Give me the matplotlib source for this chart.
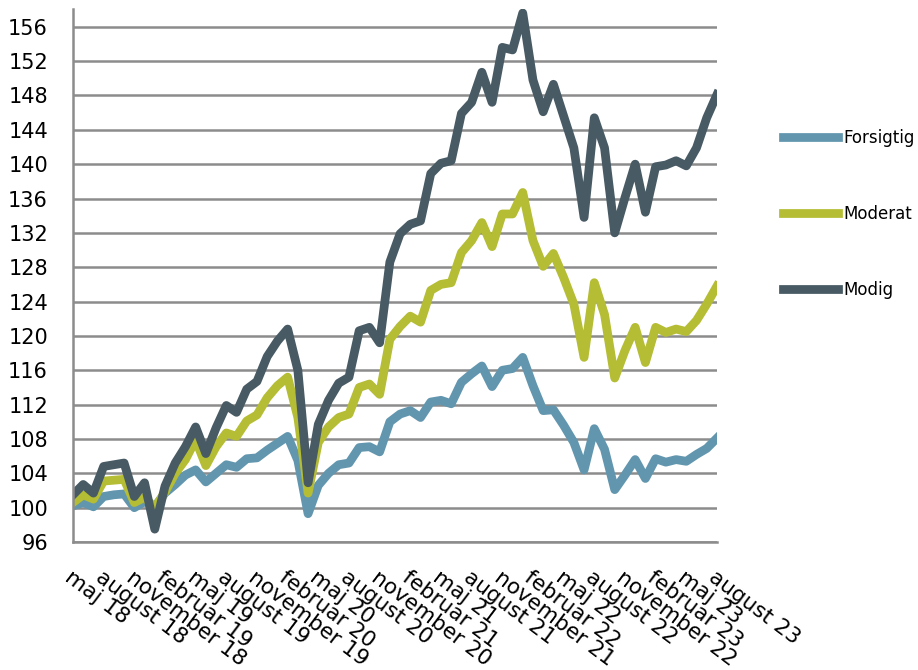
import numpy as np
import matplotlib
matplotlib.use("Agg")
import matplotlib.pyplot as plt

plt.rcParams['font.family'] = ['DejaVu Sans']

# monthly index values, maj 18 .. august 23
forsigtig = [100.2, 100.6, 100.1, 101.3, 101.5, 101.6, 100.0, 100.7, 100.1, 101.7,
             102.7, 103.8, 104.4, 103.0, 104.0, 105.0, 104.7, 105.7, 105.8, 106.7,
             107.5, 108.3, 105.5, 99.3, 102.6, 104.0, 105.0, 105.2, 107.0, 107.1,
             106.5, 110.0, 110.9, 111.3, 110.5, 112.3, 112.5, 112.1, 114.6, 115.6,
             116.5, 114.1, 116.0, 116.2, 117.5, 114.2, 111.3, 111.4, 109.6, 107.6,
             104.4, 109.2, 106.8, 102.1, 103.8, 105.6, 103.4, 105.7, 105.3, 105.6,
             105.4, 106.2, 106.9, 108.1]
moderat = [100.6, 101.5, 101.0, 103.1, 103.2, 103.3, 100.6, 101.2, 100.0, 101.8,
           104.0, 105.6, 107.9, 104.9, 107.1, 108.7, 108.3, 110.1, 110.8, 112.8,
           114.2, 115.2, 110.5, 101.7, 107.6, 109.4, 110.5, 110.9, 114.0, 114.4,
           113.2, 119.6, 121.1, 122.3, 121.6, 125.3, 126.0, 126.2, 129.7, 131.1,
           133.2, 130.4, 134.2, 134.2, 136.7, 131.1, 128.1, 129.6, 126.8, 123.7,
           117.5, 126.2, 122.5, 115.1, 118.3, 121.0, 116.9, 121.0, 120.4, 120.8,
           120.5, 121.8, 123.7, 125.8]
modig = [101.5, 102.7, 101.7, 104.8, 105.0, 105.2, 101.3, 102.9, 97.5, 102.5,
         105.2, 107.1, 109.4, 106.3, 109.3, 111.9, 111.1, 113.8, 114.7, 117.6,
         119.4, 120.8, 116.0, 102.9, 109.7, 112.5, 114.5, 115.2, 120.6, 121.0,
         119.2, 128.6, 131.9, 133.0, 133.4, 138.9, 140.1, 140.4, 145.9, 147.2,
         150.7, 147.2, 153.6, 153.3, 157.6, 149.8, 146.1, 149.3, 145.6, 141.9,
         133.8, 145.4, 141.9, 132.0, 136.1, 140.0, 134.4, 139.7, 139.9, 140.4,
         139.8, 141.9, 145.4, 148.1]

tick_labels = ['maj 18', 'august 18', 'november 18',
               'februar 19', 'maj 19', 'august 19', 'november 19',
               'februar 20', 'maj 20', 'august 20', 'november 20',
               'februar 21', 'maj 21', 'august 21', 'november 21',
               'februar 22', 'maj 22', 'august 22', 'november 22',
               'februar 23', 'maj 23', 'august 23']

x = np.arange(len(modig))

fig = plt.figure(figsize=(9.18, 6.70), dpi=100)
ax = fig.add_axes([0.0795, 0.191, 0.7015, 0.796])

ax.plot(x, forsigtig, color='#6296ae', lw=6.3, label='Forsigtig', solid_joinstyle='round')
ax.plot(x, moderat, color='#b4bd33', lw=6.3, label='Moderat', solid_joinstyle='round')
ax.plot(x, modig, color='#485a64', lw=6.3, label='Modig', solid_joinstyle='round')

ax.set_xlim(0, len(modig) - 1)
ax.set_ylim(96, 158.1)
ax.set_yticks(np.arange(96, 157, 4))
ax.yaxis.grid(True, color='#8c8c8c', lw=1.8)
ax.set_axisbelow(True)

ax.set_xticks(x[::3])
ax.set_xticklabels(tick_labels, rotation=-37, ha='left', va='top',
                   rotation_mode='anchor', fontsize=15.5)
ax.tick_params(axis='x', length=0, pad=18)
ax.tick_params(axis='y', length=0, pad=18, labelsize=15)

for s in ['top', 'right']:
    ax.spines[s].set_visible(False)
for s in ['left', 'bottom']:
    ax.spines[s].set_color('#8c8c8c')
    ax.spines[s].set_linewidth(1.8)

fig.legend(loc='upper left', bbox_to_anchor=(0.853, 0.808), frameon=False,
           fontsize=12, handlelength=3.3, handletextpad=0.3, labelspacing=3.5,
           borderpad=0, borderaxespad=0)

fig.savefig('out.png', dpi=100)
